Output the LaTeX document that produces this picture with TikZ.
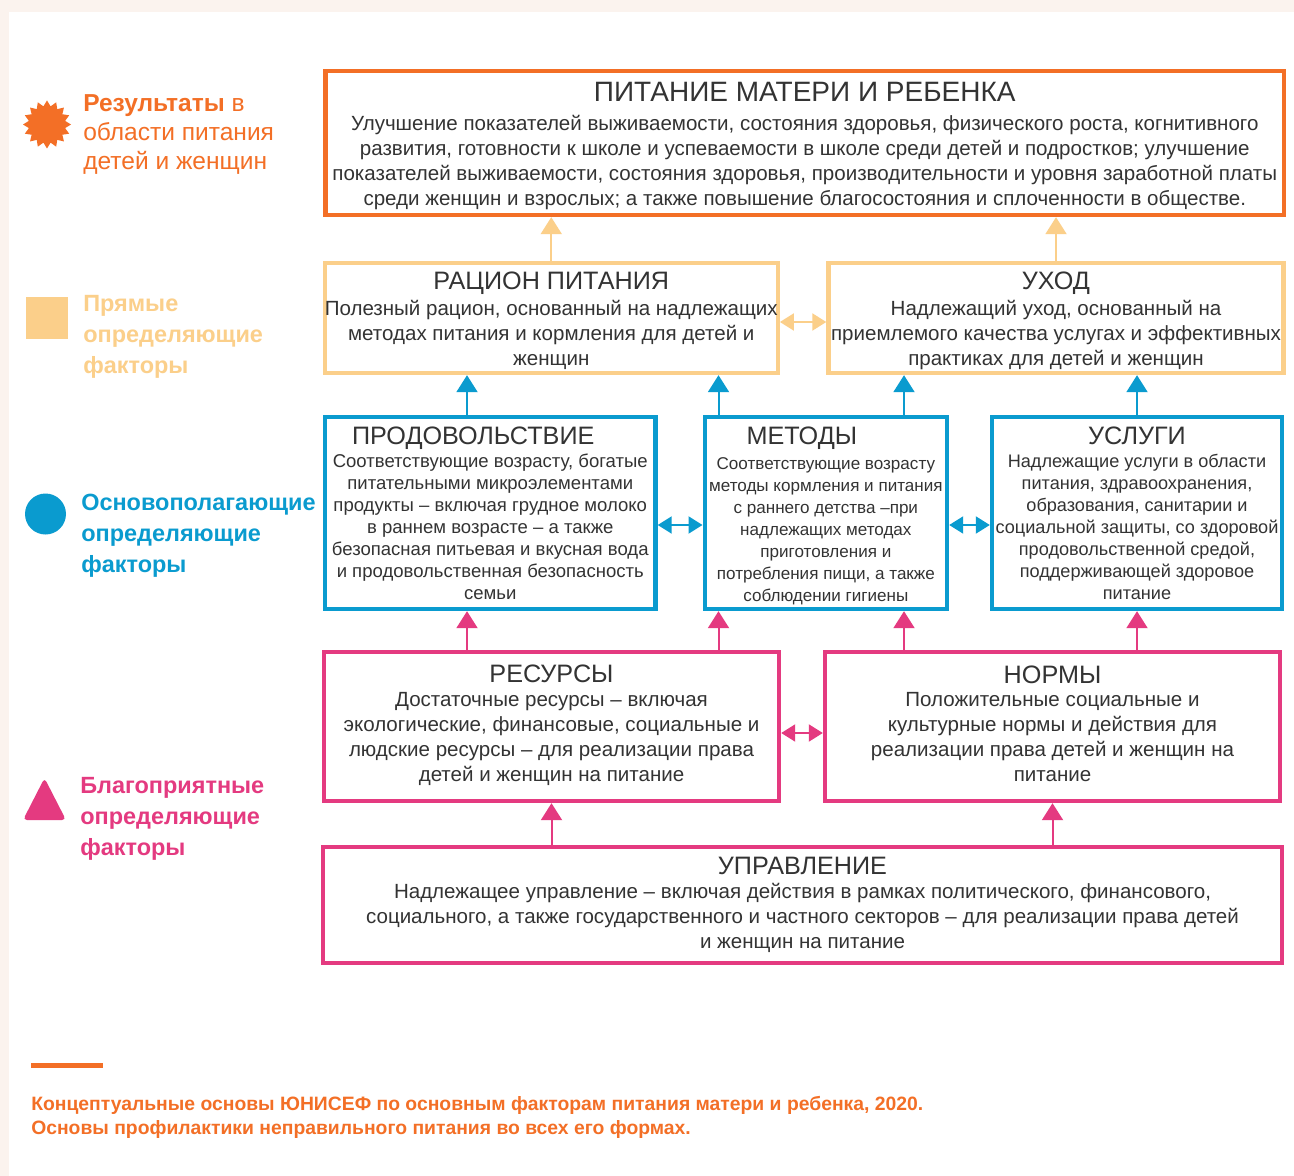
\documentclass[tikz,border=0pt]{standalone}
\usepackage{fontspec}
\setmainfont{Liberation Sans}
\usetikzlibrary{arrows.meta,shapes.geometric}

\definecolor{uorange}{HTML}{F36F26}
\definecolor{uyellow}{HTML}{FBCF8A}
\definecolor{ublue}{HTML}{0A9BCF}
\definecolor{upink}{HTML}{E43A80}
\definecolor{ucream}{HTML}{FBF3EE}
\definecolor{utext}{HTML}{333333}

\newdimen\pxu \pxu=0.75pt
\newcommand\bigttl[1]{{\fontsize{21}{24}\selectfont #1}}
\newcommand\ttl[1]{{\fontsize{18.9}{22}\selectfont #1}}

\tikzset{
  factorbox/.style={draw=#1, line width=4.4\pxu, inner sep=0pt, align=center, text=utext,
    font=\fontsize{15.4}{18.75}\selectfont},
  smallbox/.style={factorbox=#1, font=\fontsize{13.9}{16.5}\selectfont},
  legend/.style={anchor=west, inner sep=0pt, align=left, text=#1,
    font=\fontsize{17.6}{23.25}\selectfont\bfseries},
  uparr/.style={draw=#1, line width=1.5pt,
    arrows={-Triangle[width=15.75pt,length=12.75pt]}},
  duoarr/.style={draw=#1, line width=1.5pt,
    arrows={Triangle[width=12.75pt,length=10.5pt]-Triangle[width=12.75pt,length=10.5pt]}}
}

\begin{document}
\begin{tikzpicture}[x=0.75pt, y=-0.75pt]

   \useasboundingbox (0,0) rectangle (1294,1176);
   \fill[ucream] (0,0) rectangle (1294,1176);
   \fill[white] (9,12) rectangle (1294,1176);

   % legend
   \node[star, star points=16, star point ratio=1.3, fill=uorange, inner sep=0pt,
     minimum size=48\pxu] (starmark) at (47,124.5) {};
   \node[legend=uorange, font=\fontsize{18.4}{22}\selectfont] (legout) at (83,134.5)
     {\textbf{Результаты} в\\области питания\\детей и женщин};
   \fill[uyellow] (26,297) rectangle (68,339);
   \node[legend=uyellow] (legdirect) at (83,337) {Прямые\\определяющие\\факторы};
   \fill[ublue] (45.5,514) circle (20.5);
   \node[legend=ublue] (legbase) at (81,535.5) {Основополагающие\\определяющие\\факторы};
   \fill[upink, rounded corners=3pt] (23,820) -- (44.5,778) -- (66,820) -- cycle;
   \node[legend=upink] (legenable) at (80,819) {Благоприятные\\определяющие\\факторы};

   % boxes
   \node[factorbox=uorange, minimum width=958.5\pxu, minimum height=144\pxu] (outcome)
     at (804.75,143) {\rule{0pt}{18.75pt}\bigttl{ПИТАНИЕ МАТЕРИ И РЕБЕНКА}\\[3.25pt]
     Улучшение показателей выживаемости, состояния здоровья, физического роста, когнитивного\\
     развития, готовности к школе и успеваемости в школе среди детей и подростков; улучшение\\
     показателей выживаемости, состояния здоровья, производительности и уровня заработной платы\\
     среди женщин и взрослых; а также повышение благосостояния и сплоченности в обществе.};

   \node[factorbox=uyellow, minimum width=451.5\pxu, minimum height=110\pxu] (diet)
     at (551.25,318) {\rule{0pt}{17.3pt}\ttl{РАЦИОН ПИТАНИЯ}\\[0.75pt]
     Полезный рацион, основанный на надлежащих\\
     методах питания и кормления для детей и\\
     женщин};
   \node[factorbox=uyellow, minimum width=455\pxu, minimum height=110\pxu] (care)
     at (1056,318) {\rule{0pt}{17.3pt}\ttl{УХОД}\\[0.75pt]
     Надлежащий уход, основанный на\\
     приемлемого качества услугах и эффективных\\
     практиках для детей и женщин};

   \node[smallbox=ublue, minimum width=330.5\pxu, minimum height=192\pxu] (food)
     at (490.25,513) {\ttl{ПРОДОВОЛЬСТВИЕ}\hspace*{25.5pt}\\[0.5pt]
     Соответствующие возрасту, богатые\\
     питательными микроэлементами\\
     продукты – включая грудное молоко\\
     в раннем возрасте – а также\\
     безопасная питьевая и вкусная вода\\
     и продовольственная безопасность\\
     семьи};
   \node[smallbox=ublue, minimum width=242.3\pxu, minimum height=192\pxu,
     font=\fontsize{12.8}{16.5}\selectfont] (practices)
     at (825.85,513) {\rule{0pt}{17.3pt}\ttl{МЕТОДЫ}\hspace*{36pt}\\[1.75pt]
     Соответствующие возрасту\\
     методы кормления и питания\\
     с раннего детства –при\\
     надлежащих методах\\
     приготовления и\\
     потребления пищи, а также\\
     соблюдении гигиены};
   \node[smallbox=ublue, minimum width=290\pxu, minimum height=192\pxu,
     font=\fontsize{13.6}{16.5}\selectfont] (services)
     at (1137,513) {\ttl{УСЛУГИ}\\[0.5pt]
     Надлежащие услуги в области\\
     питания, здравоохранения,\\
     образования, санитарии и\\
     социальной защиты, со здоровой\\
     продовольственной средой,\\
     поддерживающей здоровое\\
     питание};

   \node[factorbox=upink, minimum width=455\pxu, minimum height=149\pxu] (resources)
     at (551.5,726.5) {\ttl{РЕСУРСЫ}\\[-0.75pt]
     Достаточные ресурсы – включая\\
     экологические, финансовые, социальные и\\
     людские ресурсы – для реализации права\\
     детей и женщин на питание\rule[-5.5pt]{0pt}{5.5pt}};
   \node[factorbox=upink, minimum width=455\pxu, minimum height=149\pxu] (norms)
     at (1052.5,726.5) {\ttl{НОРМЫ}\\[-1.5pt]
     Положительные социальные и\\
     культурные нормы и действия для\\
     реализации права детей и женщин на\\
     питание\rule[-4.5pt]{0pt}{4.5pt}};
   \node[factorbox=upink, minimum width=959\pxu, minimum height=116\pxu] (govern)
     at (802.5,905) {\ttl{УПРАВЛЕНИЕ}\\[-0.5pt]
     Надлежащее управление – включая действия в рамках политического, финансового,\\
     социального, а также государственного и частного секторов – для реализации права детей\\
     и женщин на питание};

   % arrow lanes
   \coordinate (lanea) at (467,0);
   \coordinate (laneb) at (718.5,0);
   \coordinate (lanec) at (904,0);
   \coordinate (laned) at (1137,0);
   \coordinate (rowy) at (0,322);
   \coordinate (rowb) at (0,525);
   \coordinate (rowp) at (0,733);

   \draw[uparr=uyellow] (diet.north) -- (diet.north |- outcome.south);
   \draw[uparr=uyellow] (care.north) -- (care.north |- outcome.south);
   \draw[duoarr=uyellow] (diet.east |- rowy) -- (care.west |- rowy);

   \draw[uparr=ublue] (food.north -| lanea) -- (diet.south -| lanea);
   \draw[uparr=ublue] (practices.north -| laneb) -- (diet.south -| laneb);
   \draw[uparr=ublue] (practices.north -| lanec) -- (care.south -| lanec);
   \draw[uparr=ublue] (services.north -| laned) -- (care.south -| laned);
   \draw[duoarr=ublue] (food.east |- rowb) -- (practices.west |- rowb);
   \draw[duoarr=ublue] (practices.east |- rowb) -- (services.west |- rowb);

   \draw[uparr=upink] (resources.north -| lanea) -- (food.south -| lanea);
   \draw[uparr=upink] (resources.north -| laneb) -- (practices.south -| laneb);
   \draw[uparr=upink] (norms.north -| lanec) -- (practices.south -| lanec);
   \draw[uparr=upink] (norms.north -| laned) -- (services.south -| laned);
   \draw[duoarr=upink] (resources.east |- rowp) -- (norms.west |- rowp);
   \draw[uparr=upink] (govern.north -| resources.south) -- (resources.south);
   \draw[uparr=upink] (govern.north -| norms.south) -- (norms.south);

   % source
   \draw[uorange, line width=5\pxu] (31,1065.5) -- (103,1065.5);
   \node[anchor=west, inner sep=0pt, align=left, text=uorange,
     font=\fontsize{14.5}{18}\selectfont\bfseries] (source) at (31,1117)
     {Концептуальные основы ЮНИСЕФ по основным факторам питания матери и ребенка, 2020.\\
     Основы профилактики неправильного питания во всех его формах.};

\end{tikzpicture}
\end{document}
